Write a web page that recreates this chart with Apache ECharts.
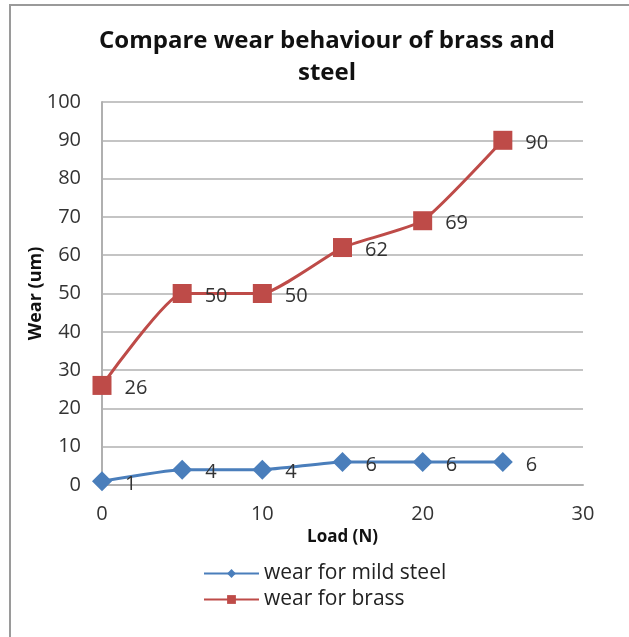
<!DOCTYPE html>
<html>
<head>
<meta charset="utf-8">
<script src="https://cdn.jsdelivr.net/npm/echarts@6/dist/echarts.min.js"></script>
<style>
  html, body { margin: 0; padding: 0; background: #fff; }
  #chart { width: 629px; height: 637px; }
</style>
</head>
<body>
<div id="chart"></div>
<script>
var load = [0, 5, 10, 15, 20, 25];
var wearSteel = [1, 4, 4, 6, 6, 6];
var wearBrass = [26, 50, 50, 62, 69, 90];
var xTicks = [0, 10, 20, 30];

var font = "'Open Sans', Lato, sans-serif";

function pairs(xs, ys) {
  var out = [];
  for (var i = 0; i < xs.length; i++) {
    out.push([xs[i], ys[i]]);
  }
  return out;
}

// 数据标签样式，两条线一样
var pointLabel = {
  show: true,
  position: "right",
  distance: 13,
  offset: [0, 3],
  fontFamily: font,
  fontSize: 20,
  color: "#333",
  formatter: function (p) { return p.value[1]; }
};

var chart = echarts.init(document.getElementById("chart"));
chart.setOption({
  backgroundColor: "#fff",
  animation: false,
  textStyle: { fontFamily: font },
  // 外框，只有上边和左边
  graphic: [
    {
      type: "polyline",
      shape: { points: [[10, 640], [10, 5], [629, 5]] },
      style: { fill: "none", stroke: "#9a9a9a", lineWidth: 2 }
    }
  ],
  title: {
    text: "Compare wear behaviour of brass and\nsteel",
    left: 322,
    textAlign: "center",
    top: 20,
    padding: 5,
    textStyle: {
      fontFamily: font,
      fontSize: 24,
      fontWeight: "bold",
      color: "#111",
      lineHeight: 32
    }
  },
  legend: {
    orient: "vertical",
    left: 198,
    top: 558,
    itemWidth: 55,
    itemHeight: 11,
    itemGap: 5,
    textStyle: { fontFamily: font, fontSize: 21, color: "#222" },
    data: ["wear for mild steel", "wear for brass"]
  },
  grid: { left: 102, right: 46, top: 102, bottom: 152 },
  xAxis: {
    type: "value",
    min: 0,
    max: 30,
    interval: 10,
    name: "Load (N)",
    nameLocation: "middle",
    nameGap: 44,
    nameMoveOverlap: false,
    nameTextStyle: { fontFamily: font, fontSize: 17, fontWeight: "bold", color: "#111" },
    axisLine: { show: true, lineStyle: { color: "#b0b0b0", width: 2 } },
    axisTick: { show: false },
    splitLine: { show: false },
    axisLabel: {
      fontFamily: font, fontSize: 20, color: "#333", margin: 19,
      formatter: function (v) { return xTicks.indexOf(v) >= 0 ? String(v) : ""; }
    }
  },
  yAxis: {
    type: "value",
    min: 0,
    max: 100,
    interval: 10,
    name: "Wear (um)",
    nameLocation: "middle",
    nameGap: 57,
    nameMoveOverlap: false,
    nameTextStyle: { fontFamily: font, fontSize: 18, fontWeight: "bold", color: "#111" },
    axisLine: { show: true, lineStyle: { color: "#b0b0b0", width: 2 } },
    axisTick: { show: false },
    splitLine: { show: true, lineStyle: { color: "#c4c4c4", width: 2 } },
    axisLabel: { fontFamily: font, fontSize: 20, color: "#333", margin: 21 }
  },
  series: [
    {
      name: "wear for mild steel",
      type: "line",
      smooth: 0.15,
      symbol: "diamond",
      symbolSize: 20,
      data: pairs(load, wearSteel),
      lineStyle: { color: "#4a7ebb", width: 3 },
      itemStyle: { color: "#4a7ebb" },
      label: pointLabel,
      z: 3
    },
    {
      name: "wear for brass",
      type: "line",
      smooth: 0.15,
      symbol: "rect",
      symbolSize: 19,
      data: pairs(load, wearBrass),
      lineStyle: { color: "#be4b48", width: 3 },
      itemStyle: { color: "#be4b48" },
      label: pointLabel,
      z: 4
    }
  ]
});
</script>
</body>
</html>
